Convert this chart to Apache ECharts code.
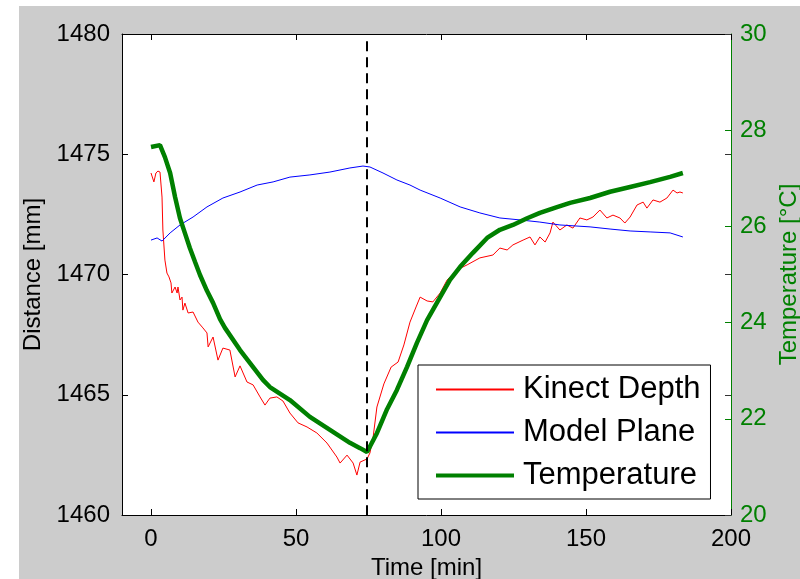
<!DOCTYPE html>
<html>
<head>
<meta charset="UTF-8">
<title>Kinect depth vs temperature</title>
<script src="https://cdn.jsdelivr.net/npm/echarts@6/dist/echarts.min.js"></script>
<style>
  html, body { margin: 0; padding: 0; background: #fff; }
  #main { width: 800px; height: 579px; }
</style>
</head>
<body>
<div id="main"></div>
<script>
// time [min] and distance [mm]
var kinectTime = [0, 0.3, 1.0, 1.7, 2.4, 3.1, 3.8, 4.1, 4.8, 5.5, 6.2, 6.9, 7.2, 8.3, 9.0, 9.3, 10.0, 10.7, 11.0, 11.7, 12.8, 14.5, 16.2, 17.9, 19.3, 19.7, 21.4, 23.1, 24.8, 27.2, 29.0, 30.7, 33.1, 35.2, 37.6, 39.3, 41.0, 43.4, 45.5, 47.9, 50.7, 53.8, 57.2, 60.7, 64.1, 65.2, 67.6, 69.7, 71.0, 72.1, 74.5, 75.5, 76.6, 77.9, 80.3, 82.8, 85.2, 87.2, 89.3, 91.4, 92.8, 95.2, 97.2, 99.7, 102.1, 105.5, 109.0, 113.4, 117.9, 120.3, 122.8, 124.8, 128.3, 130.7, 132.4, 134.1, 135.9, 137.6, 138.6, 141.0, 143.4, 145.5, 147.9, 150.3, 152.4, 154.8, 157.2, 159.3, 161.7, 163.4, 165.2, 167.6, 169.7, 171.0, 173.1, 175.5, 177.9, 180.0, 181.4, 182.4, 183.4];
var kinectDepth = [1474.22, 1474.26, 1473.85, 1474.22, 1474.30, 1474.26, 1473.22, 1471.85, 1470.60, 1470.06, 1469.90, 1469.65, 1469.23, 1469.48, 1469.23, 1469.48, 1468.94, 1469.06, 1468.52, 1468.81, 1468.40, 1468.44, 1468.02, 1467.78, 1467.57, 1466.99, 1467.40, 1466.44, 1466.94, 1466.86, 1465.74, 1466.20, 1465.53, 1465.41, 1464.91, 1464.57, 1464.86, 1464.91, 1464.74, 1464.24, 1463.83, 1463.66, 1463.41, 1462.99, 1462.41, 1462.16, 1462.49, 1462.16, 1461.66, 1462.20, 1462.33, 1462.58, 1463.24, 1464.49, 1465.45, 1466.15, 1466.36, 1467.07, 1468.02, 1468.65, 1469.06, 1468.90, 1468.86, 1469.23, 1469.77, 1470.19, 1470.40, 1470.69, 1470.81, 1471.10, 1471.02, 1471.23, 1471.43, 1471.56, 1471.23, 1471.56, 1471.35, 1471.73, 1472.18, 1471.85, 1472.06, 1471.93, 1472.35, 1472.27, 1472.39, 1472.68, 1472.35, 1472.47, 1472.35, 1472.14, 1472.39, 1472.89, 1473.01, 1472.76, 1473.10, 1473.01, 1473.18, 1473.51, 1473.39, 1473.43, 1473.39];

var modelTime = [0, 2.1, 3.8, 6.6, 10.0, 14.5, 19.3, 24.8, 30.7, 36.6, 42.1, 47.9, 54.8, 61.7, 68.6, 73.1, 75.5, 80.0, 84.8, 89.3, 92.8, 99.7, 106.6, 113.4, 120.3, 127.2, 134.1, 141.0, 151.4, 158.3, 165.2, 172.1, 179.0, 183.4];
var modelDepth = [1471.43, 1471.52, 1471.39, 1471.73, 1472.06, 1472.39, 1472.81, 1473.18, 1473.43, 1473.72, 1473.85, 1474.05, 1474.14, 1474.26, 1474.43, 1474.51, 1474.47, 1474.22, 1473.93, 1473.72, 1473.51, 1473.18, 1472.81, 1472.56, 1472.35, 1472.27, 1472.18, 1472.06, 1471.98, 1471.89, 1471.81, 1471.77, 1471.73, 1471.56];

// temperature [°C]
var tempTime = [0, 3.1, 4.8, 6.6, 8.3, 10.0, 11.7, 13.4, 15.2, 16.9, 19.3, 21.4, 23.8, 25.5, 30.7, 38.6, 41.0, 47.9, 54.8, 61.7, 68.6, 72.1, 74.5, 77.9, 81.4, 84.8, 88.3, 91.7, 95.2, 99.7, 103.1, 106.6, 111.0, 115.9, 120.3, 124.8, 129.7, 134.1, 140.0, 144.5, 151.4, 158.3, 165.2, 172.1, 179.0, 183.4];
var tempValue = [27.65, 27.69, 27.44, 27.11, 26.61, 26.17, 25.86, 25.55, 25.26, 24.99, 24.66, 24.41, 24.07, 23.89, 23.43, 22.81, 22.66, 22.39, 22.04, 21.77, 21.50, 21.39, 21.31, 21.70, 22.20, 22.60, 23.08, 23.58, 24.05, 24.53, 24.89, 25.16, 25.45, 25.76, 25.93, 26.03, 26.17, 26.28, 26.40, 26.49, 26.59, 26.72, 26.82, 26.92, 27.03, 27.11];

var onsetTime = 74.5;
var xTicks = [0, 50, 100, 150, 200];

function zip(a, b) {
  var out = [];
  for (var i = 0; i < a.length; i++) out.push([a[i], b[i]]);
  return out;
}
function plain(v) { return String(v); }

var font = 'Liberation Sans, Arial, Helvetica, sans-serif';
var green = '#008000';
var red = '#ff0000';
var blue = '#0000ff';

var myChart = echarts.init(document.getElementById('main'));
var option = {
  color: [red, blue, green],
  backgroundColor: '#fff',
  animation: false,
  textStyle: { fontFamily: font },
  graphic: [{
    type: 'rect', z: -10, silent: true,
    shape: { x: 19, y: 6, width: 781, height: 573 },
    style: { fill: '#cccccc' }
  }],
  grid: {
    left: 122, top: 34, right: 69, bottom: 64,
    outerBoundsMode: 'none', containLabel: false,
    show: true, backgroundColor: '#fff', borderWidth: 0
  },
  legend: {
    orient: 'vertical',
    left: 418, top: 365,
    padding: [9, 10, 8, 16],
    itemWidth: 78, itemHeight: 30, itemGap: 12,
    backgroundColor: '#fff',
    borderColor: '#000', borderWidth: 1, borderRadius: 0,
    itemStyle: { color: 'rgba(0,0,0,0)', borderColor: 'rgba(0,0,0,0)', borderWidth: 0, opacity: 0 },
    textStyle: { fontSize: 31, color: '#000', fontFamily: font, padding: [0, 0, 0, 4] },
    data: [
      'Kinect Depth',
      'Model Plane',
      { name: 'Temperature', lineStyle: { color: green, width: 4 } }
    ]
  },
  xAxis: [{
    type: 'value', min: -10, max: 200,
    name: 'Time [min]', nameLocation: 'middle', nameGap: 40,
    nameTextStyle: { fontSize: 24, color: '#000' },
    axisLine: { onZero: false, lineStyle: { color: '#000', width: 1 } },
    axisTick: { inside: true, length: 6, customValues: xTicks, lineStyle: { color: '#000' } },
    axisLabel: { customValues: xTicks, fontSize: 24, color: '#000', margin: 12, formatter: plain },
    splitLine: { show: false }
  }, {
    type: 'value', min: -10, max: 200, position: 'top',
    axisLine: { onZero: false, lineStyle: { color: '#000', width: 1 } },
    axisTick: { inside: true, length: 6, customValues: xTicks, lineStyle: { color: '#000' } },
    axisLabel: { show: false },
    splitLine: { show: false }
  }],
  yAxis: [{
    type: 'value', min: 1460, max: 1480, interval: 5, position: 'left',
    name: 'Distance [mm]', nameLocation: 'middle', nameGap: 70,
    nameTextStyle: { fontSize: 24, color: '#000' },
    axisLine: { show: true, onZero: false, lineStyle: { color: '#000', width: 1 } },
    axisTick: { show: true, inside: true, length: 6, lineStyle: { color: '#000' } },
    axisLabel: { fontSize: 24, color: '#000', margin: 12, formatter: plain },
    splitLine: { show: false }
  }, {
    type: 'value', min: 20, max: 30, interval: 2, position: 'right',
    name: 'Temperature [°C]', nameLocation: 'middle', nameGap: 46,
    nameTextStyle: { fontSize: 24, color: green },
    axisLine: { show: true, onZero: false, lineStyle: { color: green, width: 1 } },
    axisTick: { show: true, inside: true, length: 6, lineStyle: { color: green } },
    axisLabel: { fontSize: 24, color: green, margin: 9, formatter: plain },
    splitLine: { show: false }
  }, {
    type: 'value', min: 1460, max: 1480, interval: 5, position: 'right',
    axisLine: { show: false, onZero: false },
    axisTick: { show: true, inside: true, length: 6, lineStyle: { color: '#333' } },
    axisLabel: { show: false },
    splitLine: { show: false }
  }],
  series: [{
    name: 'Kinect Depth', type: 'line', symbol: 'none',
    xAxisIndex: 0, yAxisIndex: 0,
    data: zip(kinectTime, kinectDepth),
    lineStyle: { color: red, width: 1 },
    itemStyle: { color: red },
    markLine: {
      silent: true, symbol: ['none', 'none'], label: { show: false },
      lineStyle: { color: '#000', width: 2, type: [10, 6] },
      data: [[{ coord: [onsetTime, 1479.7] }, { coord: [onsetTime, 1460] }]]
    }
  }, {
    name: 'Model Plane', type: 'line', symbol: 'none',
    xAxisIndex: 0, yAxisIndex: 0,
    data: zip(modelTime, modelDepth),
    lineStyle: { color: blue, width: 1 },
    itemStyle: { color: blue }
  }, {
    name: 'Temperature', type: 'line', symbol: 'none',
    xAxisIndex: 0, yAxisIndex: 1,
    data: zip(tempTime, tempValue),
    lineStyle: { color: green, width: 4.5 },
    itemStyle: { color: green }
  }]
};
myChart.setOption(option);
</script>
</body>
</html>
